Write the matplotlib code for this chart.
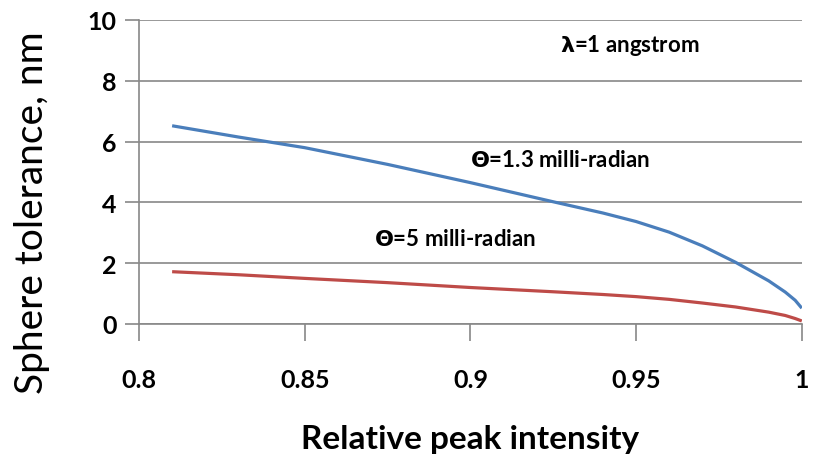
import matplotlib
matplotlib.use('Agg')
import matplotlib.pyplot as plt

plt.rcParams['font.family'] = ['Lato', 'DejaVu Sans']
plt.rcParams['mathtext.fontset'] = 'dejavusans'

intensity = [0.81, 0.83, 0.85, 0.875, 0.9, 0.925, 0.94, 0.95, 0.96, 0.97, 0.98, 0.99, 0.995, 0.998, 1.0]
tol_13mrad = [6.52, 6.15, 5.8, 5.25, 4.65, 4.02, 3.65, 3.37, 3.02, 2.57, 2.03, 1.42, 1.05, 0.78, 0.52]
tol_5mrad = [1.72, 1.62, 1.5, 1.36, 1.2, 1.06, 0.97, 0.9, 0.81, 0.69, 0.56, 0.39, 0.28, 0.18, 0.1]

x_ticks = [0.8, 0.85, 0.9, 0.95, 1.0]
x_labels = ['0.8', '0.85', '0.9', '0.95', '1']
y_ticks = [0, 2, 4, 6, 8, 10]

fig = plt.figure(figsize=(8.19, 4.56), dpi=100)
ax = fig.add_axes([0.1697, 0.2873, 0.8093, 0.6667])

ax.plot(intensity, tol_13mrad, color='#4A7EBB', lw=2.3, solid_capstyle='butt')
ax.plot(intensity, tol_5mrad, color='#BE4B48', lw=2.3, solid_capstyle='butt')

ax.set_xlim(0.8, 1.0)
ax.set_ylim(0, 10)
ax.set_xticks(x_ticks)
ax.set_xticklabels(x_labels)
ax.set_yticks(y_ticks)

ax.grid(axis='y', color='#888888', lw=1.2)
ax.set_axisbelow(True)
for s in ['top', 'right']:
    ax.spines[s].set_visible(False)
for s in ['left', 'bottom']:
    ax.spines[s].set_color('#888888')
    ax.spines[s].set_linewidth(1.2)
ax.tick_params(axis='y', length=10, width=1.2, color='#888888', pad=6)
ax.tick_params(axis='x', length=12, width=1.2, color='#888888', pad=20)
for lab in ax.get_xticklabels() + ax.get_yticklabels():
    lab.set_fontsize(18)
    lab.set_fontweight('bold')

ax.set_xlabel('Relative peak intensity', fontsize=24, fontweight='bold')
ax.xaxis.set_label_coords(0.5, -0.33)
ax.set_ylabel('Sphere tolerance, nm', fontsize=28)
ax.yaxis.set_label_coords(-0.134, 0.37)

ax.text(0.948, 9.2, r'$\mathbf{\lambda}$=1 angstrom', fontsize=16, fontweight='bold',
        ha='center', va='center')
ax.text(0.9, 5.4, r'$\mathbf{\Theta}$=1.3 milli-radian', fontsize=16, fontweight='bold',
        ha='left', va='center')
ax.text(0.871, 2.8, r'$\mathbf{\Theta}$=5 milli-radian', fontsize=16, fontweight='bold',
        ha='left', va='center')

fig.savefig('out.png', dpi=100)
